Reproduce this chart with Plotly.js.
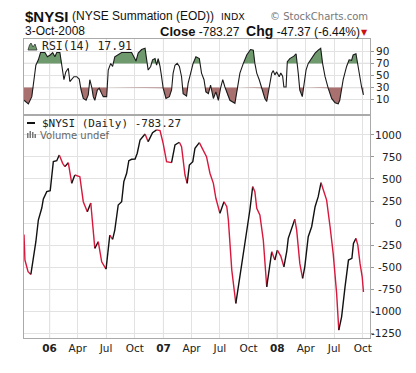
<!DOCTYPE html>
<html><head><meta charset="utf-8">
<script src="https://cdn.plot.ly/plotly-3.0.1.min.js"></script>
<style>html,body{margin:0;padding:0;background:#fff}</style>
</head><body><div id="chart" style="width:416px;height:373px"></div>
<script>
const nysiDates = ['2005-10-11','2005-10-14','2005-10-24','2005-11-02','2005-11-10','2005-11-18','2005-11-26','2005-12-07','2005-12-12','2005-12-23',
'2006-01-03','2006-01-08','2006-01-13','2006-01-24','2006-02-01','2006-02-12','2006-02-19','2006-03-02','2006-03-13','2006-03-23',
'2006-04-08','2006-04-19','2006-05-02','2006-05-13','2006-05-21','2006-05-26','2006-06-06','2006-06-17','2006-07-01','2006-07-08',
'2006-07-13','2006-07-22','2006-07-29','2006-08-09','2006-08-20','2006-08-27','2006-09-05','2006-09-12','2006-09-21','2006-10-02',
'2006-10-09','2006-10-18','2006-11-03','2006-11-13','2006-11-27','2006-12-10','2006-12-21','2006-12-31','2007-01-11','2007-01-27',
'2007-02-07','2007-02-21','2007-02-28','2007-03-11','2007-03-18','2007-03-25','2007-04-05','2007-04-12','2007-04-26','2007-05-08',
'2007-05-19','2007-05-30','2007-06-10','2007-06-18','2007-07-01','2007-07-14','2007-07-23','2007-07-28','2007-08-02','2007-08-08',
'2007-08-21','2007-09-03','2007-09-14','2007-09-25','2007-10-05','2007-10-14','2007-10-21','2007-10-27','2007-11-06','2007-11-17',
'2007-11-28','2007-12-06','2007-12-14','2007-12-24','2008-01-01','2008-01-12','2008-01-22','2008-01-31','2008-02-05','2008-02-16',
'2008-02-26','2008-03-03','2008-03-13','2008-03-22','2008-03-29','2008-04-09','2008-04-20','2008-05-01','2008-05-11','2008-05-20',
'2008-05-27','2008-06-07','2008-06-18','2008-06-28','2008-07-09','2008-07-16','2008-07-25','2008-08-05','2008-08-16','2008-08-27',
'2008-09-01','2008-09-09','2008-09-15','2008-09-22','2008-09-29','2008-10-03'];
const nysiValues = [-130,-420,-553,-583,-420,-212,34,170,273,356,
367,511,697,708,773,678,640,685,451,545,
526,242,128,227,-80,-288,-212,-440,-523,-250,
-136,-186,-80,205,242,470,565,708,724,727,
792,943,1011,924,1026,1057,1049,905,697,685,
886,917,867,545,451,659,697,849,913,830,
753,565,451,281,110,242,185,34,-269,-534,
-913,-610,-345,-80,148,413,356,167,91,-193,
-724,-497,-326,-420,-307,-375,-497,-326,-174,-60,
42,-80,-458,-628,-497,-155,-42,185,299,458,
375,261,-42,-345,-799,-1216,-1065,-724,-420,-401,
-231,-174,-250,-458,-610,-783.27];

const rsiDates = ['2005-10-11','2005-10-25','2005-11-05','2005-11-10','2005-11-18','2005-11-26','2005-12-03','2005-12-17','2005-12-25','2006-01-03',
'2006-01-11','2006-01-18','2006-01-24','2006-02-03','2006-02-09','2006-02-16','2006-02-22','2006-03-02','2006-03-07','2006-03-13',
'2006-03-20','2006-03-29','2006-04-06','2006-04-12','2006-04-19','2006-04-28','2006-05-05','2006-05-10','2006-05-16','2006-05-21',
'2006-05-26','2006-06-03','2006-06-09','2006-06-17','2006-06-22','2006-07-03','2006-07-08','2006-07-16','2006-07-22','2006-07-29',
'2006-08-09','2006-08-20','2006-09-21','2006-10-05','2006-10-12','2006-10-23','2006-11-03','2006-11-08','2006-11-13','2006-11-21',
'2006-11-27','2006-12-05','2006-12-10','2006-12-15','2006-12-21','2006-12-26','2006-12-31','2007-01-09','2007-01-20','2007-01-27',
'2007-02-01','2007-02-07','2007-02-14','2007-02-21','2007-02-28','2007-03-05','2007-03-16','2007-03-21','2007-03-29','2007-04-06',
'2007-04-15','2007-04-26','2007-05-03','2007-05-11','2007-05-17','2007-05-25','2007-06-01','2007-06-10','2007-06-18','2007-06-26',
'2007-07-03','2007-07-10','2007-07-17','2007-07-25','2007-08-02','2007-08-18','2007-08-26','2007-09-03','2007-09-14','2007-09-25',
'2007-10-07','2007-10-16','2007-10-21','2007-10-27','2007-11-04','2007-11-12','2007-11-22','2007-11-28','2007-12-06','2007-12-14',
'2007-12-19','2007-12-24','2007-12-30','2008-01-07','2008-01-12','2008-01-18','2008-01-22','2008-01-29','2008-02-02','2008-02-10',
'2008-02-23','2008-03-01','2008-03-08','2008-03-13','2008-03-21','2008-03-26','2008-04-02','2008-04-09','2008-04-20','2008-05-01',
'2008-05-11','2008-05-19','2008-05-25','2008-06-02','2008-06-12','2008-06-23','2008-07-04','2008-07-14','2008-07-19','2008-07-30',
'2008-08-10','2008-08-18','2008-08-26','2008-08-31','2008-09-09','2008-09-16','2008-09-22','2008-09-27','2008-10-03'];
const rsiValues = [9,3,15,37,67,76,88,88,81,84,
88,81,88,88,70,43,56,62,40,43,
48,48,44,26,12,9,18,43,31,15,
9,26,29,20,15,15,59,70,65,81,
84,88,88,74,87,93,95,76,59,65,
76,78,67,78,65,48,29,12,15,26,
54,67,70,65,48,20,16,37,54,70,
81,78,54,43,23,20,34,12,23,9,
29,43,31,18,9,4,26,54,70,84,
93,92,70,54,43,29,12,7,31,54,
58,51,56,48,54,49,31,31,73,78,
82,86,54,26,15,31,59,70,78,87,
92,95,70,48,29,12,5,3,9,43,
65,76,75,84,86,65,40,31,17.91];

const mainTicks = [-1250,-1000,-750,-500,-250,0,250,500,750,1000];
const rsiTicks = [10,30,50,70,90];
const xTickDates = ['2006-01-01','2006-04-01','2006-07-01','2006-10-01','2007-01-01','2007-04-01','2007-07-01','2007-10-01','2008-01-01','2008-04-01','2008-07-01','2008-10-01'];
const xTickLabels = ['<b>06</b>','Apr','Jul','Oct','<b>07</b>','Apr','Jul','Oct','<b>08</b>','Apr','Jul','Oct'];
const yearTicks = ['2006-01-01','2007-01-01','2008-01-01'];
const rsiUpper = 70, rsiLower = 30, rsiMid = 50;

// pixel helpers for decorations (plot area: x 24..370, y 39..338)
const PL=24, PW=346, PT=39, PH=299;
const px = x => (x-PL)/PW;
const py = y => (PT+PH-y)/PH;

// main line split into rising (black) and falling (red) runs
const traces = [];
function runTrace(xs, ys, color){
  return {x:xs, y:ys, xaxis:'x', yaxis:'y', type:'scatter', mode:'lines',
    line:{color:color, width:1.4}, hoverinfo:'skip', showlegend:false};
}
let i=0;
while(i<nysiValues.length-1){
  const rising = nysiValues[i+1] >= nysiValues[i];
  const xs=[nysiDates[i]], ys=[nysiValues[i]];
  let j=i;
  while(j<nysiValues.length-1 && ((nysiValues[j+1]>=nysiValues[j])===rising)){
    xs.push(nysiDates[j+1]); ys.push(nysiValues[j+1]); j++;
  }
  traces.push(runTrace(xs, ys, rising ? '#111111' : '#d8173c'));
  i=j;
}

// RSI bands
function fmt(ms){ return new Date(ms).toISOString().slice(0,19).replace('T',' '); }
function band(level, above){
  const xs=[], ys=[];
  const t = rsiDates.map(d=>Date.parse(d));
  for(let k=0;k<rsiValues.length;k++){
    if(k>0){
      const a=rsiValues[k-1], b=rsiValues[k];
      if((a-level)*(b-level)<0){
        const f=(level-a)/(b-a);
        xs.push(fmt(t[k-1]+f*(t[k]-t[k-1]))); ys.push(level);
      }
    }
    xs.push(rsiDates[k]);
    ys.push(above ? Math.max(rsiValues[k],level) : Math.min(rsiValues[k],level));
  }
  return {xs, ys};
}
const up = band(rsiUpper, true), lo = band(rsiLower, false);
const rsiTraces = [
  {x:up.xs, y:up.xs.map(()=>rsiUpper), xaxis:'x2', yaxis:'y2', mode:'lines', line:{width:0}, hoverinfo:'skip', showlegend:false},
  {x:up.xs, y:up.ys, xaxis:'x2', yaxis:'y2', mode:'lines', line:{width:0}, fill:'tonexty', fillcolor:'rgb(110,154,110)', hoverinfo:'skip', showlegend:false},
  {x:lo.xs, y:lo.xs.map(()=>rsiLower), xaxis:'x2', yaxis:'y2', mode:'lines', line:{width:0}, hoverinfo:'skip', showlegend:false},
  {x:lo.xs, y:lo.ys, xaxis:'x2', yaxis:'y2', mode:'lines', line:{width:0}, fill:'tonexty', fillcolor:'rgb(168,112,110)', hoverinfo:'skip', showlegend:false},
  {x:rsiDates, y:rsiValues, xaxis:'x2', yaxis:'y2', mode:'lines', line:{color:'#1a1a1a', width:1.1}, hoverinfo:'skip', showlegend:false}
];

const FONT = 'DejaVu Sans';
const annotations = [];
mainTicks.forEach(v=>annotations.push({xref:'paper', yref:'y', x:px(404), y:v, xanchor:'right', yanchor:'middle',
  text:String(v), showarrow:false, font:{family:FONT, size:10.5, color:'#222'}}));

annotations.push(
  {xref:'paper', yref:'paper', x:px(23), y:py(16), xanchor:'left', yanchor:'middle', showarrow:false,
    text:'<b>$NYSI</b>', font:{family:'Liberation Sans', size:15, color:'#111'}},
  {xref:'paper', yref:'paper', x:px(70), y:py(16), xanchor:'left', yanchor:'middle', showarrow:false,
    text:'(NYSE Summation (EOD))', font:{family:'Liberation Sans', size:12, color:'#111'}},
  {xref:'paper', yref:'paper', x:px(219), y:py(16), xanchor:'left', yanchor:'middle', showarrow:false,
    text:'INDX', font:{family:FONT, size:9.5, color:'#111'}},
  {xref:'paper', yref:'paper', x:px(370), y:py(16), xanchor:'right', yanchor:'middle', showarrow:false,
    text:'© StockCharts.com', font:{family:FONT, size:10, color:'#777'}},
  {xref:'paper', yref:'paper', x:px(23), y:py(31), xanchor:'left', yanchor:'middle', showarrow:false,
    text:'3-Oct-2008', font:{family:'Liberation Sans', size:12, color:'#111'}},
  {xref:'paper', yref:'paper', x:px(362), y:py(31), xanchor:'right', yanchor:'middle', showarrow:false,
    text:'<span style="font-size:13px"><b>Close</b></span> -783.27  <span style="font-size:14px"><b>Chg</b></span> -47.37 (-6.44%)',
    font:{family:'Liberation Sans', size:12, color:'#111'}},
  {xref:'paper', yref:'paper', x:px(370), y:py(32), xanchor:'right', yanchor:'middle', showarrow:false,
    text:'▼', font:{family:FONT, size:8, color:'#cc1111'}},
  {xref:'paper', yref:'paper', x:px(40), y:py(46), xanchor:'left', yanchor:'middle', showarrow:false,
    text:'RSI(14) 17.91', font:{family:'DejaVu Sans Mono', size:11.5, color:'#222'}},
  {xref:'paper', yref:'paper', x:px(40), y:py(123), xanchor:'left', yanchor:'middle', showarrow:false,
    text:'$NYSI (Daily) -783.27', font:{family:'DejaVu Sans Mono', size:11, color:'#222'}},
  {xref:'paper', yref:'paper', x:px(38), y:py(135), xanchor:'left', yanchor:'middle', showarrow:false,
    text:'Volume undef', font:{family:FONT, size:10, color:'#666'}}
);

const shapes = [];
yearTicks.forEach(d=>shapes.push({type:'line', xref:'x', yref:'paper', x0:d, x1:d, y0:0, y1:1, layer:'below',
  line:{color:'#b4b4b4', width:1}}));
shapes.push(
  {type:'line', xref:'paper', yref:'y2', x0:0, x1:1, y0:rsiUpper, y1:rsiUpper, layer:'below', line:{color:'#8c8c8c', width:1}},
  {type:'line', xref:'paper', yref:'y2', x0:0, x1:1, y0:rsiLower, y1:rsiLower, layer:'below', line:{color:'#8c8c8c', width:1}},
  {type:'line', xref:'paper', yref:'y2', x0:0, x1:1, y0:rsiMid, y1:rsiMid, layer:'below', line:{color:'#999', width:1, dash:'dashdot'}},
  // legend icons
  {type:'path', xref:'paper', yref:'paper', layer:'above',
    path:`M ${px(28)} ${py(50)} L ${px(29.5)} ${py(45)} L ${px(31)} ${py(43)} L ${px(33)} ${py(47)} L ${px(35)} ${py(44)} L ${px(37)} ${py(50)} Z`,
    fillcolor:'rgb(110,154,110)', line:{color:'#333', width:0.8}},
  {type:'line', xref:'paper', yref:'paper', x0:px(27), x1:px(35), y0:py(123), y1:py(123), layer:'above', line:{color:'#111', width:2}},
  {type:'rect', xref:'paper', yref:'paper', x0:px(27), x1:px(28.5), y0:py(138), y1:py(133), layer:'above', fillcolor:'#777', line:{width:0}},
  {type:'rect', xref:'paper', yref:'paper', x0:px(29.5), x1:px(31), y0:py(138), y1:py(131), layer:'above', fillcolor:'#777', line:{width:0}},
  {type:'rect', xref:'paper', yref:'paper', x0:px(32), x1:px(33.5), y0:py(138), y1:py(132), layer:'above', fillcolor:'#777', line:{width:0}},
  {type:'rect', xref:'paper', yref:'paper', x0:px(34.5), x1:px(36), y0:py(138), y1:py(134), layer:'above', fillcolor:'#777', line:{width:0}}
);

const xRange = ['2005-10-11','2008-10-24'];
const gridC = '#e2e2e2';
const layout = {
  width:416, height:373,
  margin:{l:PL, r:416-PL-PW, t:PT, b:373-PT-PH, pad:0},
  paper_bgcolor:'#fff', plot_bgcolor:'rgba(0,0,0,0)',
  showlegend:false, hovermode:false,
  xaxis:{type:'date', range:xRange, anchor:'y', domain:[0,1],
    tickmode:'array', tickvals:xTickDates, ticktext:xTickLabels,
    showgrid:true, gridcolor:gridC, gridwidth:1, ticks:'', zeroline:false,
    showline:true, linecolor:'#aaa', linewidth:1, mirror:true,
    tickfont:{family:FONT, size:10.5, color:'#222'}},
  xaxis2:{type:'date', range:xRange, anchor:'y2', matches:'x', domain:[0,1],
    tickmode:'array', tickvals:xTickDates, showticklabels:false,
    showgrid:true, gridcolor:gridC, gridwidth:1, ticks:'', zeroline:false,
    showline:true, linecolor:'#aaa', linewidth:1, mirror:true},
  yaxis:{domain:[0, py(116)], range:[-1305,1215], side:'right', anchor:'x',
    tickmode:'array', tickvals:mainTicks, showticklabels:false,
    ticks:'outside', ticklen:3, tickcolor:'#999',
    showgrid:true, gridcolor:gridC, gridwidth:1, zeroline:false,
    showline:true, linecolor:'#aaa', linewidth:1, mirror:true},
  yaxis2:{domain:[py(114), 1], range:[-13.7,110.4], side:'right', anchor:'x2',
    tickmode:'array', tickvals:rsiTicks,
    ticks:'outside', ticklen:3, tickcolor:'#999',
    tickfont:{family:FONT, size:10.5, color:'#222'},
    showgrid:true, gridcolor:gridC, gridwidth:1, zeroline:false,
    showline:true, linecolor:'#aaa', linewidth:1, mirror:true},
  annotations:annotations,
  shapes:shapes
};

Plotly.newPlot('chart', rsiTraces.concat(traces), layout, {staticPlot:true, displayModeBar:false});
</script></body></html>
